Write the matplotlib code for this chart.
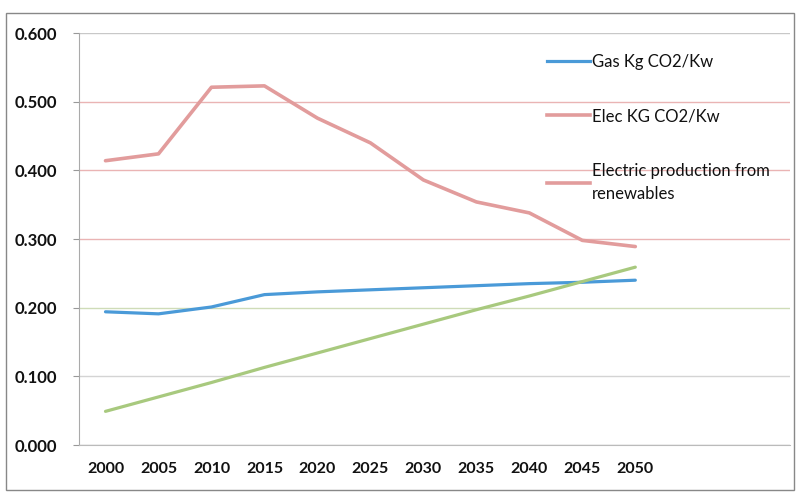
import matplotlib.pyplot as plt
from matplotlib.lines import Line2D
from matplotlib.patches import Rectangle

years = [2000, 2005, 2010, 2015, 2020, 2025, 2030, 2035, 2040, 2045, 2050]
gas = [0.194, 0.191, 0.201, 0.219, 0.223, 0.226, 0.229, 0.232, 0.235, 0.237, 0.240]
elec = [0.414, 0.424, 0.521, 0.523, 0.476, 0.440, 0.386, 0.354, 0.338, 0.298, 0.289]
renew = [0.049, 0.070, 0.091, 0.113, 0.134, 0.155, 0.176, 0.197, 0.217, 0.238, 0.259]
y_ticks = [0.0, 0.1, 0.2, 0.3, 0.4, 0.5, 0.6]
grid_colors = ['#b0b0b0', '#d4d4d4', '#cfdcb8', '#eab4b4', '#eab4b4', '#eab4b4', '#c8c8c8']

blue = '#4a9ad8'
red = '#e29c9c'
green = '#a8c97e'

plt.rcParams['font.family'] = ['Lato', 'DejaVu Sans']

fig = plt.figure(figsize=(7.98, 5.0), dpi=100)
ax = fig.add_axes([0.099, 0.11, 0.891, 0.824])

ax.plot(years, gas, color=blue, lw=2.3, solid_capstyle='round')
ax.plot(years, elec, color=red, lw=2.6, solid_capstyle='round')
ax.plot(years, renew, color=green, lw=2.3, solid_capstyle='round')

ax.set_xlim(1997.5, 2064.6)
ax.set_ylim(0, 0.6)
ax.set_xticks(years)
ax.set_xticklabels([str(y) for y in years], fontsize=11.5, fontweight='bold', color='#111')
ax.set_yticks(y_ticks)
ax.set_yticklabels(['%.3f' % v for v in y_ticks], fontsize=12, fontweight='bold', color='#111')
ax.tick_params(axis='x', length=0, pad=12)
ax.tick_params(axis='y', length=4, color='#999', pad=12)

ax.yaxis.grid(True, lw=1.0)
for gl, c in zip(ax.get_ygridlines(), grid_colors):
    gl.set_color(c)
ax.set_axisbelow(True)

for s in ['top', 'right']:
    ax.spines[s].set_visible(False)
ax.spines['left'].set_color('#aaa')
ax.spines['bottom'].set_color('#bbb')

handles = [Line2D([], [], color=blue, lw=2.3),
           Line2D([], [], color=red, lw=2.6),
           Line2D([], [], color=red, lw=2.6)]
labels = ['Gas Kg CO2/Kw', 'Elec KG CO2/Kw', 'Electric production from\nrenewables']
leg = fig.legend(handles, labels, loc='upper left', bbox_to_anchor=(0.685, 0.892),
                 frameon=False, fontsize=12, handlelength=2.6, handletextpad=0.1,
                 labelspacing=2.3, borderpad=0, borderaxespad=0)
for t in leg.get_texts():
    t.set_linespacing(1.55)
    t.set_color('#111')

fig.patches.append(Rectangle((0.007, 0.02), 0.988, 0.955, transform=fig.transFigure,
                             fill=False, edgecolor='#888', lw=1))

fig.savefig('out.png', dpi=100)
